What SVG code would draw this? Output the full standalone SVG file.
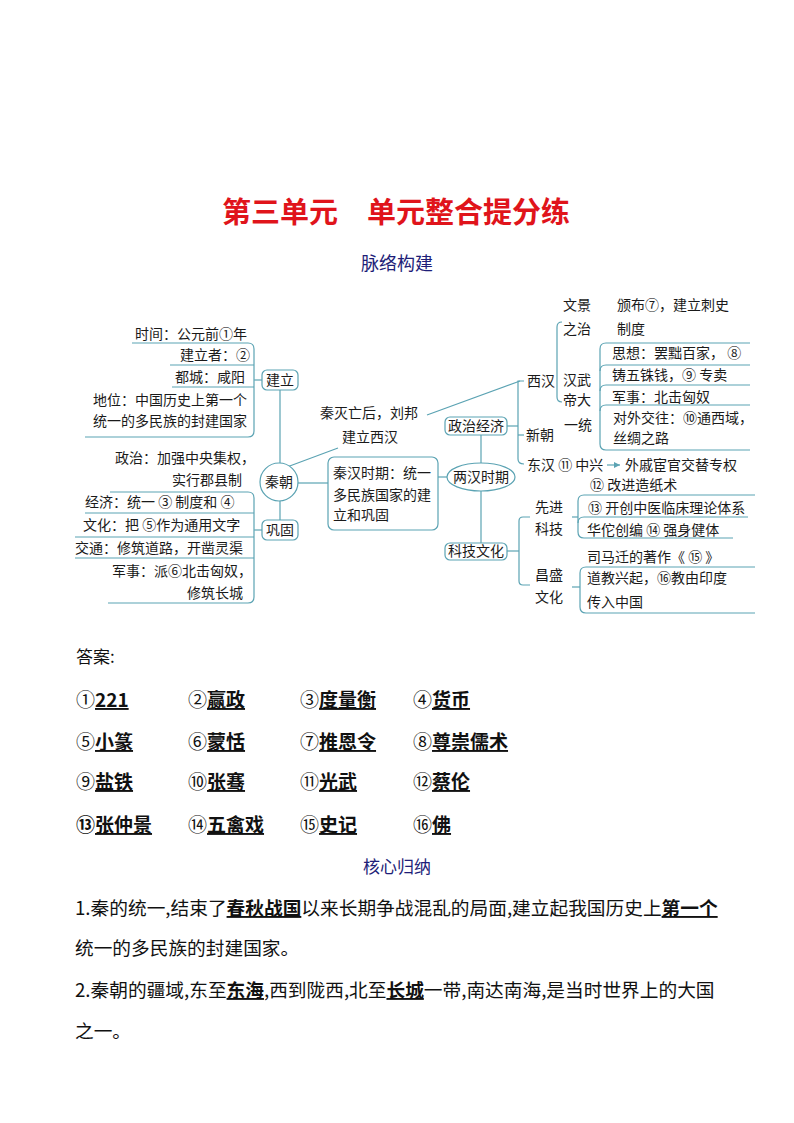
<svg xmlns="http://www.w3.org/2000/svg" width="794" height="1123" viewBox="0 0 794 1123">
<style>
.t{font-family:"Noto Sans CJK SC","Noto Sans",sans-serif;font-size:14px;fill:#1a1a1a}
.c{text-anchor:middle}
.ln{fill:none;stroke:#5ba3b3;stroke-width:1.2}
.bx{fill:#fff;stroke:#5ba3b3;stroke-width:1.2}
.ans{font-family:"Noto Sans CJK SC","Noto Sans",sans-serif;font-size:19px;fill:#111}
.b{font-weight:bold;text-decoration:underline}
.p{font-family:"Noto Sans CJK SC","Noto Sans",sans-serif;font-size:18.7px;fill:#111}
.h{font-family:"Noto Sans CJK SC","Noto Sans",sans-serif;font-size:17px;fill:#1e1e78;text-anchor:middle}
</style>
<defs>
<marker id="arr" markerWidth="8" markerHeight="8" refX="6" refY="3" orient="auto" markerUnits="userSpaceOnUse">
<path d="M0,0 L6,3 L0,6 Z" fill="#5ba3b3"/>
</marker>
</defs>
<rect width="794" height="1123" fill="#fff"/>

<g id="title">
<text x="396" y="223" font-family="Noto Sans CJK SC,sans-serif" font-size="29" font-weight="bold" fill="#e0141b" text-anchor="middle">第三单元　单元整合提分练</text>
<text x="397" y="270" class="h" font-size="18" style="font-size:18px">脉络构建</text>
</g>

<g id="connectors">
<!-- 建立 bracket -->
<path class="ln" d="M132,343 H248 Q254,343 254,349 V431 Q254,437 248,437 H85"/>
<path class="ln" d="M170,365 H254"/>
<path class="ln" d="M172,387 H254"/>
<path class="ln" d="M254,380 H262"/>
<!-- 巩固 bracket -->
<path class="ln" d="M110,492 H248 Q254,492 254,498 V597 Q254,603 248,603 H108"/>
<path class="ln" d="M85,513 H254"/>
<path class="ln" d="M75,537 H254"/>
<path class="ln" d="M75,558 H254"/>
<path class="ln" d="M254,530 H262"/>
<!-- trunk -->
<path class="ln" d="M280,390 V463"/>
<path class="ln" d="M280,501 V520"/>
<path class="ln" d="M287,467 L338,448"/>
<path class="ln" d="M427,415 L520,381"/>
<path class="ln" d="M298,483 H328"/>
<path class="ln" d="M438,477 H447"/>
<path class="ln" d="M481,435 V463"/>
<path class="ln" d="M481,491 V543"/>
<!-- 政治经济 bracket -->
<path class="ln" d="M507,426 H518"/>
<path class="ln" d="M524,381 H518 V459 Q518,464 524,464"/>
<path class="ln" d="M518,435 H524"/>
<!-- 西汉 bracket -->
<path class="ln" d="M562,322 Q557,322 557,327 V397 Q557,402 562,402"/>
<!-- 汉武 box -->
<path class="ln" d="M750,343 H606 Q600,343 600,349 V444 Q600,450 606,450 H750"/>
<path class="ln" d="M600,371 Q600,365 606,365 H750"/>
<path class="ln" d="M600,391 Q600,385 606,385 H750"/>
<path class="ln" d="M600,411 Q600,405 606,405 H750"/>
<!-- 东汉 arrow -->
<path class="ln" d="M607,465 H620" marker-end="url(#arr)"/>
<!-- 科技文化 bracket -->
<path class="ln" d="M507,551 H519"/>
<path class="ln" d="M530,517 H523 Q519,517 519,521 V581 Q519,585 523,585 H530"/>
<path class="ln" d="M572,517 H578"/>
<path class="ln" d="M755,495 H584 Q578,495 578,501 V532 Q578,538 584,538 H733"/>
<path class="ln" d="M578,523 Q578,517 584,517 H748"/>
<path class="ln" d="M572,587 H580"/>
<path class="ln" d="M755,567 H586 Q580,567 580,573 V607 Q580,613 586,613 H755"/>
</g>

<g id="jianli-items">
<text class="t" x="135" y="339">时间：公元前①年</text>
<text class="t" x="180" y="360">建立者：②</text>
<text class="t" x="175" y="382">都城：咸阳</text>
<text class="t" x="93" y="405">地位：中国历史上第一个</text>
<text class="t" x="93" y="426">统一的多民族的封建国家</text>
</g>
<g id="node-jianli">
<rect class="bx" x="262" y="370" width="36" height="20" rx="5"/>
<text class="t c" x="280" y="385">建立</text>
</g>
<g id="zhengzhi-item">
<text class="t" x="115" y="463">政治：加强中央集权，</text>
<text class="t" x="172" y="485">实行郡县制</text>
</g>
<g id="gonggu-items">
<text class="t" x="85" y="507">经济：统一 ③ 制度和 ④</text>
<text class="t" x="83" y="530">文化：把 ⑤作为通用文字</text>
<text class="t" x="75" y="553">交通：修筑道路，开凿灵渠</text>
<text class="t" x="112" y="576">军事：派⑥北击匈奴，</text>
<text class="t" x="187" y="598">修筑长城</text>
</g>
<g id="node-qinchao">
<circle class="bx" cx="279" cy="482" r="19"/>
<text class="t c" x="279" y="487">秦朝</text>
</g>
<g id="node-gonggu">
<rect class="bx" x="262" y="520" width="36" height="20" rx="5"/>
<text class="t c" x="280" y="535">巩固</text>
</g>
<g id="label-liubang">
<text class="t" x="320" y="418">秦灭亡后，刘邦</text>
<text class="t" x="342" y="442">建立西汉</text>
</g>
<g id="node-qinhan">
<rect class="bx" x="328" y="457" width="110" height="73" rx="6"/>
<text class="t" x="333" y="478">秦汉时期：统一</text>
<text class="t" x="333" y="500">多民族国家的建</text>
<text class="t" x="333" y="520">立和巩固</text>
</g>
<g id="node-lianghan">
<ellipse class="bx" cx="481" cy="477" rx="34" ry="14"/>
<text class="t c" x="481" y="482">两汉时期</text>
</g>
<g id="node-zhengzhijingji">
<rect class="bx" x="445" y="417" width="62" height="18" rx="5"/>
<text class="t c" x="476" y="431">政治经济</text>
</g>
<g id="node-kejiwenhua">
<rect class="bx" x="445" y="543" width="62" height="17" rx="5"/>
<text class="t c" x="476" y="556">科技文化</text>
</g>
<g id="node-xihan">
<text class="t" x="527" y="386">西汉</text>
<text class="t" x="563" y="310">文景</text>
<text class="t" x="563" y="334">之治</text>
<text class="t" x="617" y="310">颁布⑦，建立刺史</text>
<text class="t" x="617" y="334">制度</text>
<text class="t" x="563" y="385">汉武</text>
<text class="t" x="563" y="405">帝大</text>
<text class="t" x="564" y="430">一统</text>
<text class="t" x="612" y="358">思想：罢黜百家， ⑧</text>
<text class="t" x="612" y="380">铸五铢钱，⑨ 专卖</text>
<text class="t" x="612" y="402">军事：北击匈奴</text>
<text class="t" x="613" y="423">对外交往：⑩通西域，</text>
<text class="t" x="613" y="443">丝绸之路</text>
</g>
<g id="node-xinchao">
<text class="t" x="526" y="440">新朝</text>
</g>
<g id="node-donghan">
<text class="t" x="527" y="470">东汉 ⑪ 中兴</text>
<text class="t" x="625" y="470">外戚宦官交替专权</text>
</g>
<g id="node-xianjinkeji">
<text class="t" x="535" y="512">先进</text>
<text class="t" x="535" y="534">科技</text>
<text class="t" x="590" y="490">⑫ 改进造纸术</text>
<text class="t" x="588" y="513">⑬ 开创中医临床理论体系</text>
<text class="t" x="587" y="535">华佗创编 ⑭ 强身健体</text>
</g>
<g id="node-changshengwenhua">
<text class="t" x="535" y="580">昌盛</text>
<text class="t" x="535" y="602">文化</text>
<text class="t" x="587" y="562">司马迁的著作《 ⑮ 》</text>
<text class="t" x="587" y="583">道教兴起，⑯教由印度</text>
<text class="t" x="587" y="607">传入中国</text>
</g>

<g id="answers">
<text x="76" y="663" class="ans" style="font-size:17px">答案:</text>
<text class="ans" x="76" y="707">①<tspan class="b">221</tspan></text>
<text class="ans" x="188" y="707">②<tspan class="b">赢政</tspan></text>
<text class="ans" x="300" y="707">③<tspan class="b">度量衡</tspan></text>
<text class="ans" x="413" y="707">④<tspan class="b">货币</tspan></text>
<text class="ans" x="76" y="749">⑤<tspan class="b">小篆</tspan></text>
<text class="ans" x="188" y="749">⑥<tspan class="b">蒙恬</tspan></text>
<text class="ans" x="300" y="749">⑦<tspan class="b">推恩令</tspan></text>
<text class="ans" x="413" y="749">⑧<tspan class="b">尊崇儒术</tspan></text>
<text class="ans" x="76" y="789">⑨<tspan class="b">盐铁</tspan></text>
<text class="ans" x="188" y="789">⑩<tspan class="b">张骞</tspan></text>
<text class="ans" x="300" y="789">⑪<tspan class="b">光武</tspan></text>
<text class="ans" x="413" y="789">⑫<tspan class="b">蔡伦</tspan></text>
<text class="ans" x="76" y="832"><tspan font-weight="bold">⑬</tspan><tspan class="b">张仲景</tspan></text>
<text class="ans" x="188" y="832">⑭<tspan class="b">五禽戏</tspan></text>
<text class="ans" x="300" y="832">⑮<tspan class="b">史记</tspan></text>
<text class="ans" x="413" y="832">⑯<tspan class="b">佛</tspan></text>
</g>

<g id="summary">
<text class="h" x="397" y="873">核心归纳</text>
<text class="p" x="75" y="915">1.秦的统一,结束了<tspan class="b">春秋战国</tspan>以来长期争战混乱的局面,建立起我国历史上<tspan class="b">第一个</tspan></text>
<text class="p" x="75" y="955">统一的多民族的封建国家。</text>
<text class="p" x="75" y="997">2.秦朝的疆域,东至<tspan class="b">东海</tspan>,西到陇西,北至<tspan class="b">长城</tspan>一带,南达南海,是当时世界上的大国</text>
<text class="p" x="75" y="1038">之一。</text>
</g>
</svg>
